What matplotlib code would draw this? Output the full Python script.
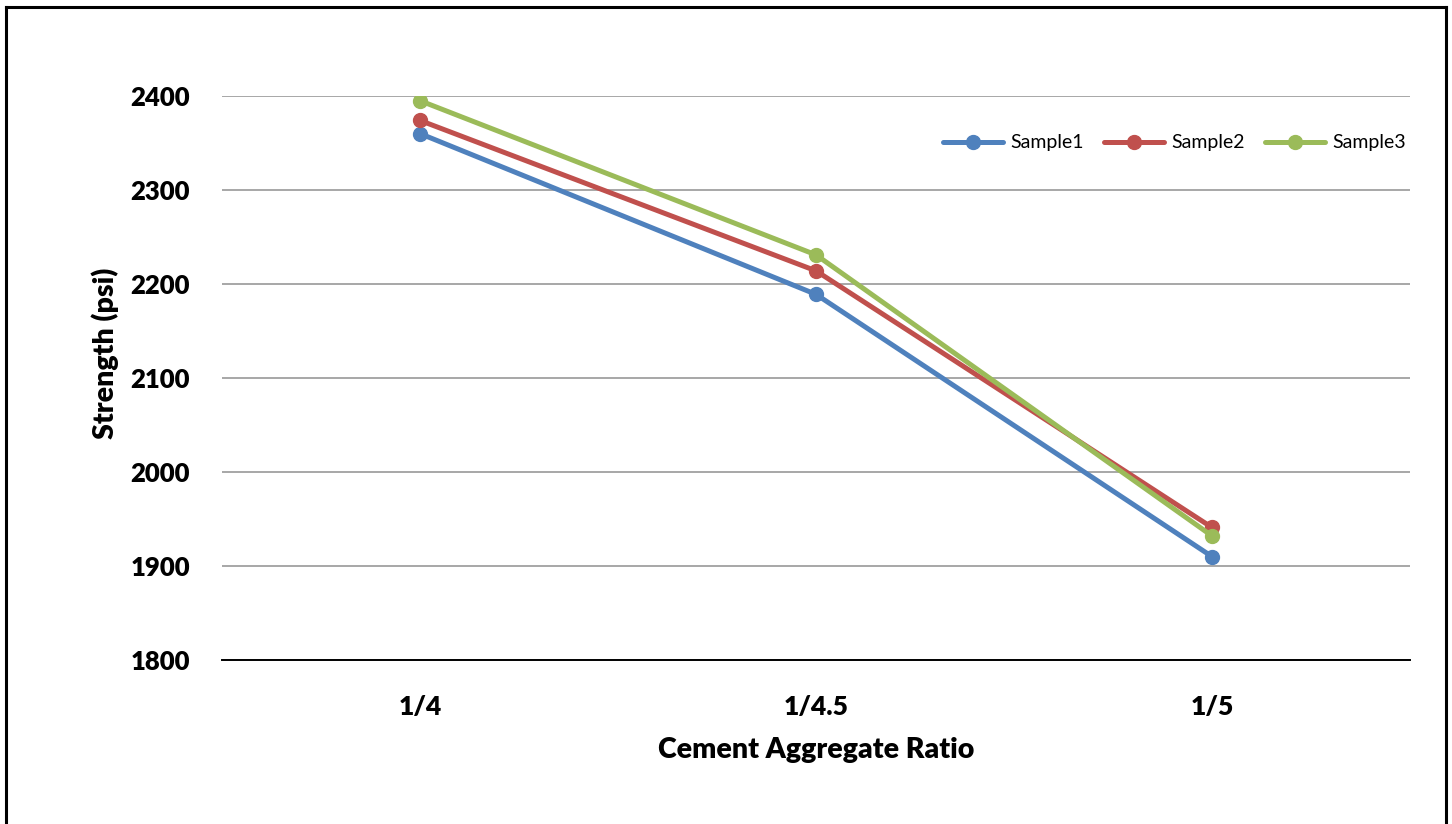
import matplotlib
matplotlib.use("Agg")
import matplotlib.pyplot as plt
from matplotlib.lines import Line2D

# Dados
categorias = ["1/4", "1/4.5", "1/5"]
amostra1 = [2360, 2189, 1910]
amostra2 = [2374, 2214, 1941]
amostra3 = [2395, 2231, 1932]
nomes = ["Sample1", "Sample2", "Sample3"]
cores = ["#4F81BD", "#C0504D", "#9BBB59"]
yticks = [1800, 1900, 2000, 2100, 2200, 2300, 2400]

plt.rcParams['font.family'] = ['Lato', 'DejaVu Sans']

fig = plt.figure(figsize=(14.52, 8.24), dpi=100)
ax = fig.add_axes([222 / 1452, 1 - 660 / 824, 1188 / 1452, 564 / 824])

x = list(range(len(categorias)))
for serie, nome, cor in zip([amostra1, amostra2, amostra3], nomes, cores):
    ax.plot(x, serie, color=cor, lw=3.6, marker='o', markersize=10,
            label=nome, solid_capstyle='round', zorder=3)

ax.set_xlim(-0.5, 2.5)
ax.set_ylim(1800, 2400)
ax.set_yticks(yticks)
ax.set_yticklabels([str(v) for v in yticks], fontsize=18.5, fontweight='heavy')
ax.set_xticks(x)
ax.set_xticklabels(categorias, fontsize=19, fontweight='heavy')
ax.tick_params(length=0)
ax.tick_params(axis='x', pad=25)
ax.tick_params(axis='y', pad=23)

ax.grid(axis='y', color='#A0A0A0', lw=1.3)
ax.set_axisbelow(True)
for lado in ['left', 'right', 'top']:
    ax.spines[lado].set_visible(False)
ax.spines['bottom'].set_color('black')
ax.spines['bottom'].set_linewidth(1.4)

ax.set_xlabel("Cement Aggregate Ratio", fontsize=20.5, fontweight='heavy')
ax.set_ylabel("Strength (psi)", fontsize=20.5, fontweight='heavy')
ax.xaxis.set_label_coords(0.5, -0.137)
ax.yaxis.set_label_coords(-0.087, 0.544)

ax.legend(loc='center right', bbox_to_anchor=(0.997, 0.917), ncol=3, frameon=False,
          fontsize=14, handlelength=3.1, columnspacing=1.0, handletextpad=0.4,
          borderaxespad=0, borderpad=0)

# Moldura externa
for xs, ys in [([6, 6], [0, 817]), ([6, 1446], [817, 817]), ([1446, 1446], [817, 0])]:
    fig.add_artist(Line2D([v / 1452 for v in xs], [v / 824 for v in ys],
                          color='black', lw=2.2, transform=fig.transFigure))

fig.savefig("out.png", dpi=100)
